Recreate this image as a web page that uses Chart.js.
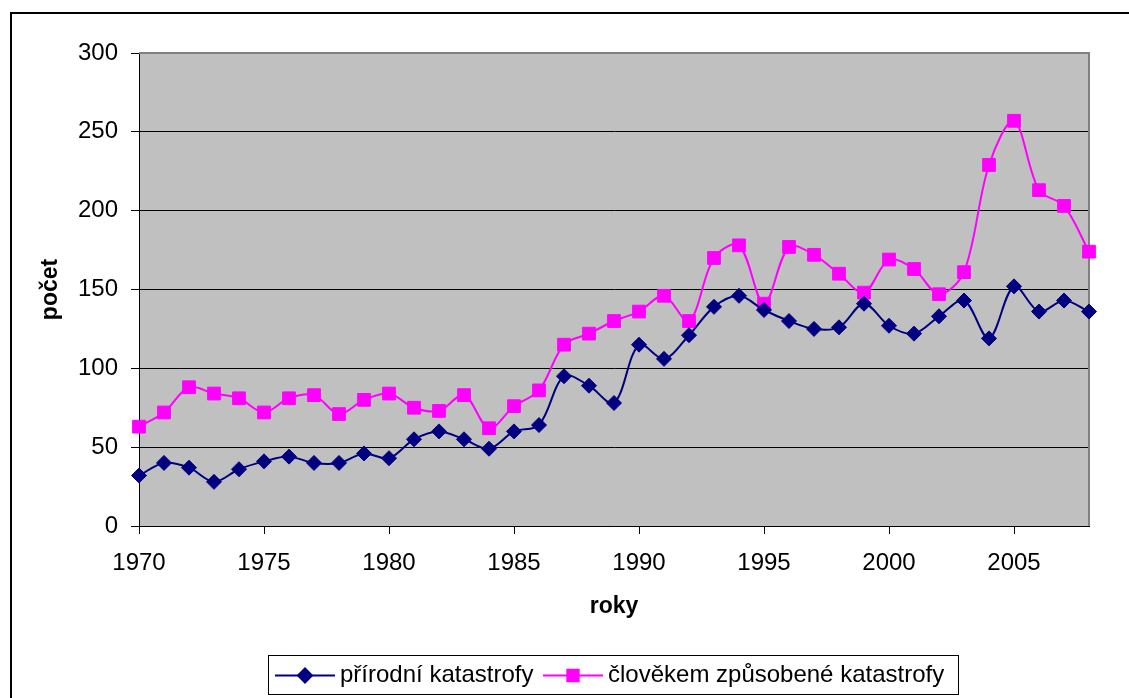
<!DOCTYPE html>
<html lang="cs">
<head>
<meta charset="UTF-8">
<title>Katastrofy 1970-2008</title>
<script src="https://cdn.jsdelivr.net/npm/chart.js"></script>
<style>
    body { margin: 0; background: #fff; }
    #wrap { width: 1129px; height: 698px; }
</style>
</head>
<body>
<div id="wrap"><canvas id="chart" width="1129" height="698"></canvas></div>
<script>
    const years = [1970, 1971, 1972, 1973, 1974, 1975, 1976, 1977, 1978, 1979,
        1980, 1981, 1982, 1983, 1984, 1985, 1986, 1987, 1988, 1989,
        1990, 1991, 1992, 1993, 1994, 1995, 1996, 1997, 1998, 1999,
        2000, 2001, 2002, 2003, 2004, 2005, 2006, 2007, 2008];
    const natural = [32, 40, 37, 28, 36, 41, 44, 40, 40, 46,
        43, 55, 60, 55, 49, 60, 64, 95, 89, 78,
        115, 106, 121, 139, 146, 137, 130, 125, 126, 141,
        127, 122, 133, 143, 119, 152, 136, 143, 136];
    const manMade = [63, 72, 88, 84, 81, 72, 81, 83, 71, 80,
        84, 75, 73, 83, 62, 76, 86, 115, 122, 130,
        136, 146, 130, 170, 178, 141, 177, 172, 160, 148,
        169, 163, 147, 161, 229, 257, 213, 203, 174];
    const seriesNames = ["přírodní katastrofy", "člověkem způsobené katastrofy"];
    const yTicks = [0, 50, 100, 150, 200, 250, 300];

    const FONT = "'Liberation Sans', Arial, sans-serif";
    const NAVY = "#000080";
    const PINK = "#ff00ff";

    function pts(vals) {
        return years.map((y, i) => ({ x: y, y: vals[i] }));
    }

    // frame, grey plot background and Excel-like legend
    const excelLook = {
        id: "excelLook",
        beforeDraw(chart) {
            const { ctx, chartArea: a } = chart;
            ctx.save();
            ctx.strokeStyle = "#000";
            ctx.lineWidth = 2;
            ctx.beginPath();
            ctx.moveTo(11, 700);
            ctx.lineTo(11, 13);
            ctx.lineTo(1135, 13);
            ctx.stroke();
            ctx.fillStyle = "#c0c0c0";
            ctx.fillRect(a.left, a.top, a.right - a.left, a.bottom - a.top);
            ctx.restore();
        },
        beforeDatasetsDraw(chart) {
            const { ctx, chartArea: a } = chart;
            ctx.save();
            ctx.strokeStyle = "#808080";
            ctx.lineWidth = 2;
            ctx.beginPath();
            ctx.moveTo(a.left, a.top);
            ctx.lineTo(a.right, a.top);
            ctx.lineTo(a.right, a.bottom);
            ctx.stroke();
            ctx.restore();
        },
        afterDraw(chart) {
            const ctx = chart.ctx;
            const box = { x: 268, y: 655, w: 690, h: 39 };
            ctx.save();
            ctx.strokeStyle = "#000";
            ctx.lineWidth = 1;
            ctx.strokeRect(box.x + 0.5, box.y + 0.5, box.w, box.h);
            ctx.font = "24px " + FONT;
            ctx.textBaseline = "middle";
            ctx.fillStyle = "#000";
            const cy = box.y + box.h / 2 + 1;
            const items = [
                { x: 275, color: NAVY, style: "rectRot", r: 7 },
                { x: 543, color: PINK, style: "rect", r: 8 }
            ];
            items.forEach((it, i) => {
                ctx.strokeStyle = it.color;
                ctx.lineWidth = 2;
                ctx.beginPath();
                ctx.moveTo(it.x, cy);
                ctx.lineTo(it.x + 60, cy);
                ctx.stroke();
                ctx.fillStyle = it.color;
                Chart.helpers.drawPoint(ctx, { pointStyle: it.style, radius: it.r, borderWidth: 1 }, it.x + 30, cy);
                ctx.fillStyle = "#000";
                ctx.fillText(seriesNames[i], it.x + 65, cy);
            });
            ctx.restore();
        }
    };

    new Chart(document.getElementById("chart"), {
        type: "line",
        data: {
            datasets: [{
                label: seriesNames[0],
                data: pts(natural),
                borderColor: NAVY,
                backgroundColor: NAVY,
                borderWidth: 2,
                pointStyle: "rectRot",
                pointRadius: 7.5,
                pointBorderWidth: 1,
                tension: 0.33,
                clip: false
            }, {
                label: seriesNames[1],
                data: pts(manMade),
                borderColor: PINK,
                backgroundColor: PINK,
                borderWidth: 2,
                pointStyle: "rect",
                pointRadius: 9,
                pointBorderWidth: 1,
                tension: 0.33,
                clip: false
            }]
        },
        options: {
            responsive: false,
            animation: false,
            layout: { padding: { left: 0, right: 40, top: 53, bottom: 72 } },
            plugins: {
                legend: { display: false },
                tooltip: { enabled: false }
            },
            scales: {
                x: {
                    type: "linear",
                    min: 1970,
                    max: 2008,
                    afterFit(scale) { scale.height = 100; },
                    ticks: {
                        stepSize: 5,
                        includeBounds: false,
                        maxRotation: 0,
                        padding: 15,
                        color: "#000",
                        font: { family: FONT, size: 24 },
                        callback: v => String(v)
                    },
                    grid: { color: "rgba(0,0,0,0)", tickColor: "#000", tickLength: 8, drawOnChartArea: false },
                    border: { display: true, color: "#000", width: 1 },
                    title: {
                        display: true,
                        text: "roky",
                        color: "#000",
                        font: { family: FONT, size: 23, weight: "bold" },
                        padding: { top: 0, bottom: 6 }
                    }
                },
                y: {
                    min: 0,
                    max: 300,
                    afterFit(scale) { scale.width = 139; },
                    afterBuildTicks(scale) { scale.ticks = yTicks.map(v => ({ value: v })); },
                    ticks: {
                        padding: 13,
                        color: "#000",
                        font: { family: FONT, size: 24 }
                    },
                    grid: { color: "#000", lineWidth: 1, tickColor: "#000", tickLength: 8 },
                    border: { display: true, color: "#000", width: 1 },
                    title: {
                        display: true,
                        text: "počet",
                        color: "#000",
                        font: { family: FONT, size: 23, weight: "bold" },
                        padding: { top: 37, bottom: 0 }
                    }
                }
            }
        },
        plugins: [excelLook]
    });
</script>
</body>
</html>
